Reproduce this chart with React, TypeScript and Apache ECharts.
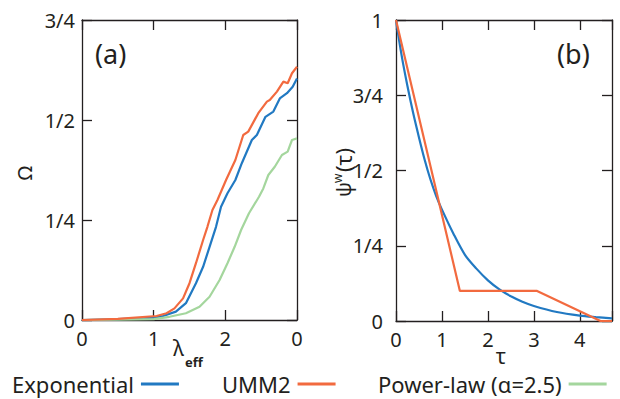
import React, { useEffect, useRef } from "react";
import * as echarts from "echarts";

const FONT = '"Noto Sans", sans-serif';
const INK = "#231f20";
const BLUE = "#2179c2";
const ORANGE = "#f26a3f";
const GREEN = "#a4d69d";

// Panel (a): Omega vs lambda_eff
const aXLabels = ["0", "1", "2", "0"];
const aYLabels = ["0", "1/4", "1/2", "3/4"];
const aExpX = [0, 0.5, 1.0, 1.13, 1.31, 1.45, 1.59, 1.69, 1.78, 1.87, 1.94, 2.03, 2.14, 2.23, 2.37, 2.44, 2.56, 2.67, 2.76, 2.86, 2.94, 3.0];
const aExpY = [0, 0.002, 0.006, 0.01, 0.021, 0.042, 0.092, 0.133, 0.183, 0.233, 0.283, 0.317, 0.35, 0.392, 0.45, 0.4625, 0.508, 0.521, 0.554, 0.567, 0.583, 0.604];
const aUmmX = [0, 0.5, 1.04, 1.18, 1.29, 1.41, 1.5, 1.59, 1.69, 1.75, 1.82, 1.89, 2.01, 2.14, 2.25, 2.32, 2.46, 2.58, 2.62, 2.72, 2.81, 2.87, 2.93, 3.0];
const aUmmY = [0, 0.003, 0.01, 0.017, 0.029, 0.054, 0.092, 0.142, 0.2, 0.233, 0.275, 0.3, 0.35, 0.4, 0.4625, 0.471, 0.517, 0.546, 0.55, 0.571, 0.596, 0.592, 0.617, 0.633];
const aPowX = [0, 0.5, 1.0, 1.22, 1.45, 1.64, 1.78, 1.92, 2.03, 2.13, 2.22, 2.33, 2.47, 2.53, 2.6, 2.69, 2.79, 2.87, 2.93, 3.0];
const aPowY = [0, 0.001, 0.002, 0.008, 0.017, 0.033, 0.058, 0.1, 0.142, 0.183, 0.225, 0.267, 0.308, 0.329, 0.3625, 0.383, 0.4125, 0.421, 0.45, 0.454];

// Panel (b): psi^w(tau) vs tau
const bXLabels = ["0", "1", "2", "3", "4"];
const bYLabels = ["0", "1/4", "1/2", "3/4", "1"];
const bExpX = [0, 0.125, 0.25, 0.375, 0.5, 0.625, 0.75, 0.875, 1, 1.25, 1.5, 1.75, 2, 2.25, 2.5, 2.75, 3, 3.5, 4, 4.35, 4.7];
const bExpY = [1, 0.88, 0.78, 0.69, 0.61, 0.535, 0.47, 0.415, 0.37, 0.29, 0.22, 0.174, 0.135, 0.105, 0.082, 0.064, 0.05, 0.03, 0.018, 0.013, 0.009];
const bUmmX = [0, 1.39, 3.07, 4.45, 4.7];
const bUmmY = [1, 0.1, 0.1, 0, 0];

const zip = (xs: number[], ys: number[]) => xs.map((x, i) => [x, ys[i]]);

const fmt = (labels: string[], step: number) => (v: number) => {
  const k = Math.round(v / step);
  if (Math.abs(v - k * step) > 1e-6) return "";
  return labels[k] ?? "";
};

const lineStyle = { color: INK, width: 1.3 };
const tickStyle = { show: true, inside: true, length: 10, lineStyle: { color: INK, width: 1.3 } };
const labelStyle = { color: INK, fontSize: 20, fontFamily: FONT };

export default function App() {
  const ref = useRef<HTMLDivElement>(null);
  useEffect(() => {
    document.body.style.margin = "0";
    const chart = echarts.init(ref.current!, null, { renderer: "svg" });
    const mkX = (grid: number, pos: "top" | "bottom", max: number, labels: string[] | null) => ({
      type: "value",
      gridIndex: grid,
      position: pos,
      min: 0,
      max,
      interval: 1,
      axisLine: { show: true, onZero: false, lineStyle },
      axisTick: tickStyle,
      splitLine: { show: false },
      axisLabel: labels
        ? { ...labelStyle, margin: 8, formatter: fmt(labels, 1), showMaxLabel: true, showMinLabel: true }
        : { show: false },
    });
    const mkY = (grid: number, pos: "left" | "right", max: number, labels: string[] | null, margin: number) => ({
      type: "value",
      gridIndex: grid,
      position: pos,
      min: 0,
      max,
      interval: 0.25,
      axisLine: { show: true, onZero: false, lineStyle },
      axisTick: tickStyle,
      splitLine: { show: false },
      axisLabel: labels ? { ...labelStyle, margin, formatter: fmt(labels, 0.25) } : { show: false },
    });
    const line = (name: string, color: string, xi: number, yi: number, data: number[][], z = 2, smooth: number | boolean = false) => ({
      type: "line",
      name,
      xAxisIndex: xi,
      yAxisIndex: yi,
      data,
      showSymbol: false,
      symbol: "none",
      smooth,
      z,
      lineStyle: { color, width: 2.2 },
      itemStyle: { color },
    });
    const legend = (name: string, left: number) => ({
      data: [name],
      left,
      top: 373,
      align: "right",
      icon: "rect",
      itemWidth: 38,
      itemHeight: 3,
      padding: 0,
      selectedMode: false,
      textStyle: { color: INK, fontSize: 22, fontFamily: FONT, padding: [0, 2, 0, 0] },
    });
    chart.setOption({
      animation: false,
      backgroundColor: "#ffffff",
      grid: [
        { left: 82, top: 20, width: 215, height: 300 },
        { left: 396, top: 20, width: 216, height: 301 },
      ],
      xAxis: [
        mkX(0, "bottom", 3, aXLabels),
        mkX(0, "top", 3, null),
        mkX(1, "bottom", 4.7, bXLabels),
        mkX(1, "top", 4.7, null),
      ],
      yAxis: [
        mkY(0, "left", 0.75, aYLabels, 7),
        mkY(0, "right", 0.75, null, 7),
        mkY(1, "left", 1, bYLabels, 13),
        mkY(1, "right", 1, null, 13),
      ],
      legend: [legend("Exponential", 12), legend("UMM2", 222), legend("Power-law (α=2.5)", 378)],
      series: [
        line("Exponential", BLUE, 0, 0, zip(aExpX, aExpY)),
        line("UMM2", ORANGE, 0, 0, zip(aUmmX, aUmmY), 3),
        line("Power-law (α=2.5)", GREEN, 0, 0, zip(aPowX, aPowY)),
        line("Exponential", BLUE, 2, 2, zip(bExpX, bExpY), 2, 0.3),
        line("UMM2", ORANGE, 2, 2, zip(bUmmX, bUmmY), 3),
      ],
      graphic: [
        { type: "text", x: 95, y: 53, style: { text: "(a)", fontSize: 27, fontFamily: FONT, fill: INK, verticalAlign: "middle" } },
        { type: "text", x: 557, y: 53, style: { text: "(b)", fontSize: 27, fontFamily: FONT, fill: INK, verticalAlign: "middle" } },
        { type: "text", x: 24, y: 173, rotation: Math.PI / 2, style: { text: "Ω", fontSize: 20, fontFamily: FONT, fill: INK, align: "center", verticalAlign: "middle" } },
        { type: "text", x: 173, y: 348, style: { text: "λ", fontSize: 21, fontFamily: FONT, fill: INK, verticalAlign: "middle" } },
        { type: "text", x: 185, y: 362, style: { text: "eff", fontSize: 13, fontFamily: FONT, fill: INK, fontWeight: "bold", verticalAlign: "middle" } },
        { type: "text", x: 501, y: 356, style: { text: "τ", fontSize: 21, fontFamily: FONT, fill: INK, align: "center", verticalAlign: "middle" } },
        {
          type: "group",
          x: 343,
          y: 197,
          rotation: Math.PI / 2,
          children: [
            { type: "text", x: 0, y: 0, style: { text: "ψ", fontSize: 20, fontFamily: FONT, fill: INK, verticalAlign: "middle" } },
            { type: "text", x: 14, y: -6, style: { text: "w", fontSize: 12, fontFamily: FONT, fill: INK, verticalAlign: "middle" } },
            { type: "text", x: 25, y: 0, style: { text: "(τ)", fontSize: 22, fontFamily: FONT, fill: INK, verticalAlign: "middle" } },
          ],
        },
      ],
    });
    return () => chart.dispose();
  }, []);
  return <div ref={ref} style={{ width: 620, height: 399 }} />;
}
